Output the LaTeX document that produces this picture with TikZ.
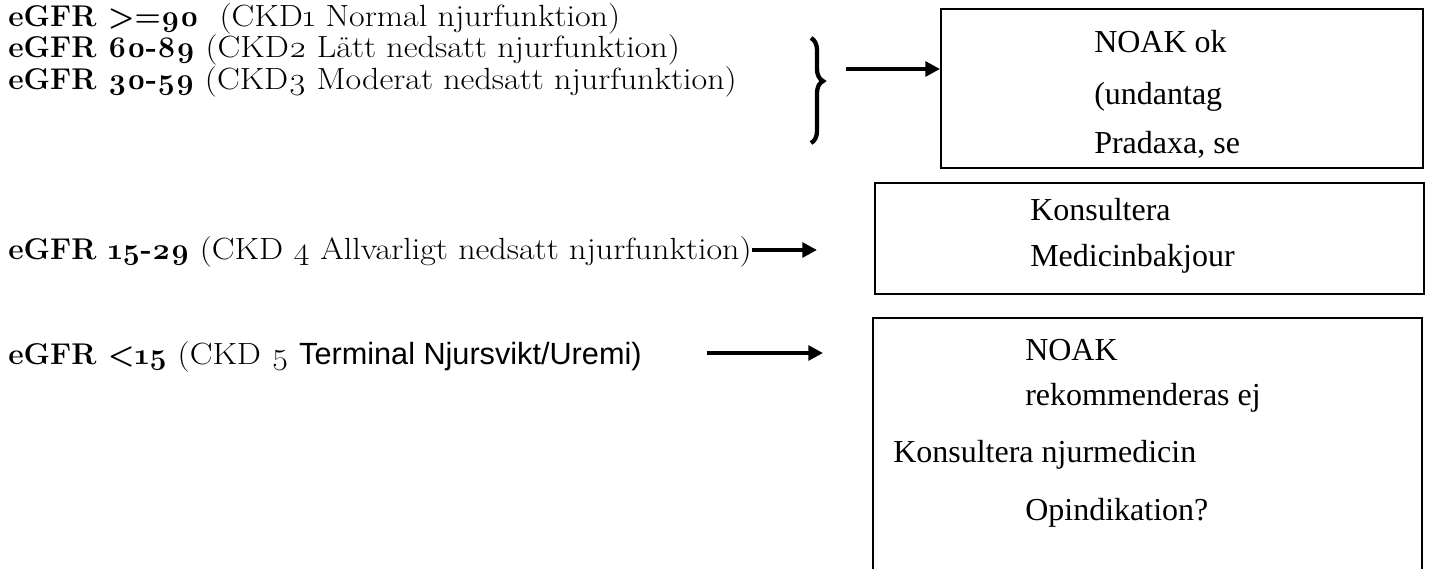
\documentclass[tikz,border=0pt]{standalone}
\usepackage{fontspec}
\setmainfont{Liberation Serif}
\setsansfont{Liberation Sans}
\newfontfamily\geo{Latin Modern Roman}[Numbers=OldStyle, FakeStretch=1.11]
\newfontfamily\geobold{Latin Modern Roman}[Numbers=OldStyle]
\usetikzlibrary{positioning, fit, arrows.meta, decorations.pathreplacing}

% bold eGFR value
\newcommand{\gfrval}[1]{{\geobold\bfseries\fontsize{22.5}{25}\selectfont #1}}

\tikzset{
  gfr/.style={anchor=base west, inner sep=0pt, font=\geo\fontsize{23}{26}\selectfont},
  outbox/.style={rectangle, draw, line width=1.4pt, inner sep=0pt},
  boxtext/.style={anchor=base west, inner sep=0pt, font=\fontsize{24}{26}\selectfont},
  pil/.style={line width=3.5pt, -{Triangle[length=11pt, width=11pt]}}
}

\begin{document}
\begin{tikzpicture}[x=0.75pt, y=-0.75pt]
                  \useasboundingbox (0,0) rectangle (1429,569);

                  % Left column
                  \node[gfr] (gfrA) at (8,26) {\gfrval{eGFR >=90}\ \ (CKD1 Normal njurfunktion)};
                  \node[gfr] (gfrB) at (8,57.5) {\gfrval{eGFR 60-89} (CKD2 Lätt nedsatt njurfunktion)};
                  \node[gfr] (gfrC) at (8,89) {\gfrval{eGFR 30-59} (CKD3 Moderat nedsatt njurfunktion)};
                  \node[gfr] (gfrD) at (8,259) {\gfrval{eGFR 15-29} (CKD 4 Allvarligt nedsatt njurfunktion)};
                  \node[gfr] (gfrE) at (8,364) {\gfrval{eGFR <15} (CKD 5 {\sffamily\fontsize{23}{26}\selectfont Terminal Njursvikt/Uremi)}};

                  % Boxes
                  \node[outbox, fit={(941,9) (1423,168)}] (okbox) {};
                  \node[outbox, fit={(875,183) (1424,294)}] (jourbox) {};
                  \node[fit={(873,318) (1422,569)}, inner sep=0pt] (ejbox) {};
                  \draw[line width=1.4pt] (ejbox.south west) |- (ejbox.north east) -- (ejbox.south east);

                  % Box texts
                  \node[boxtext] (okA) at (1094,52) {NOAK ok};
                  \node[boxtext] (okB) at (1094,104) {(undantag};
                  \node[boxtext] (okC) at (1094,153) {Pradaxa, se};
                  \node[boxtext] (jourA) at (1030,220) {Konsultera};
                  \node[boxtext] (jourB) at (1030,266) {Medicinbakjour};
                  \node[boxtext] (ejA) at (1025,360) {NOAK};
                  \node[boxtext] (ejB) at (1025,405) {rekommenderas ej};
                  \node[boxtext] (ejC) at (893,462) {Konsultera njurmedicin};
                  \node[boxtext] (ejD) at (1025,520) {Opindikation?};

                  % Brace and arrows
                  \coordinate (braceTop) at (811,38);
                  \coordinate (braceBot) at (811,143);
                  \draw[line width=3.2pt, decorate, decoration={brace, amplitude=9pt, aspect=0.41}] (braceTop) -- (braceBot);
                  \coordinate (braceOut) at (846,69);
                  \draw[pil] (braceOut) -- (braceOut -| okbox.west);
                  \coordinate (jourEnd) at (817,250);
                  \draw[pil] (gfrD.east |- jourEnd) -- (jourEnd);
                  \coordinate (ejStart) at (707,353);
                  \coordinate (ejEnd) at (823,353);
                  \draw[pil] (ejStart) -- (ejEnd);
              \end{tikzpicture}
\end{document}
